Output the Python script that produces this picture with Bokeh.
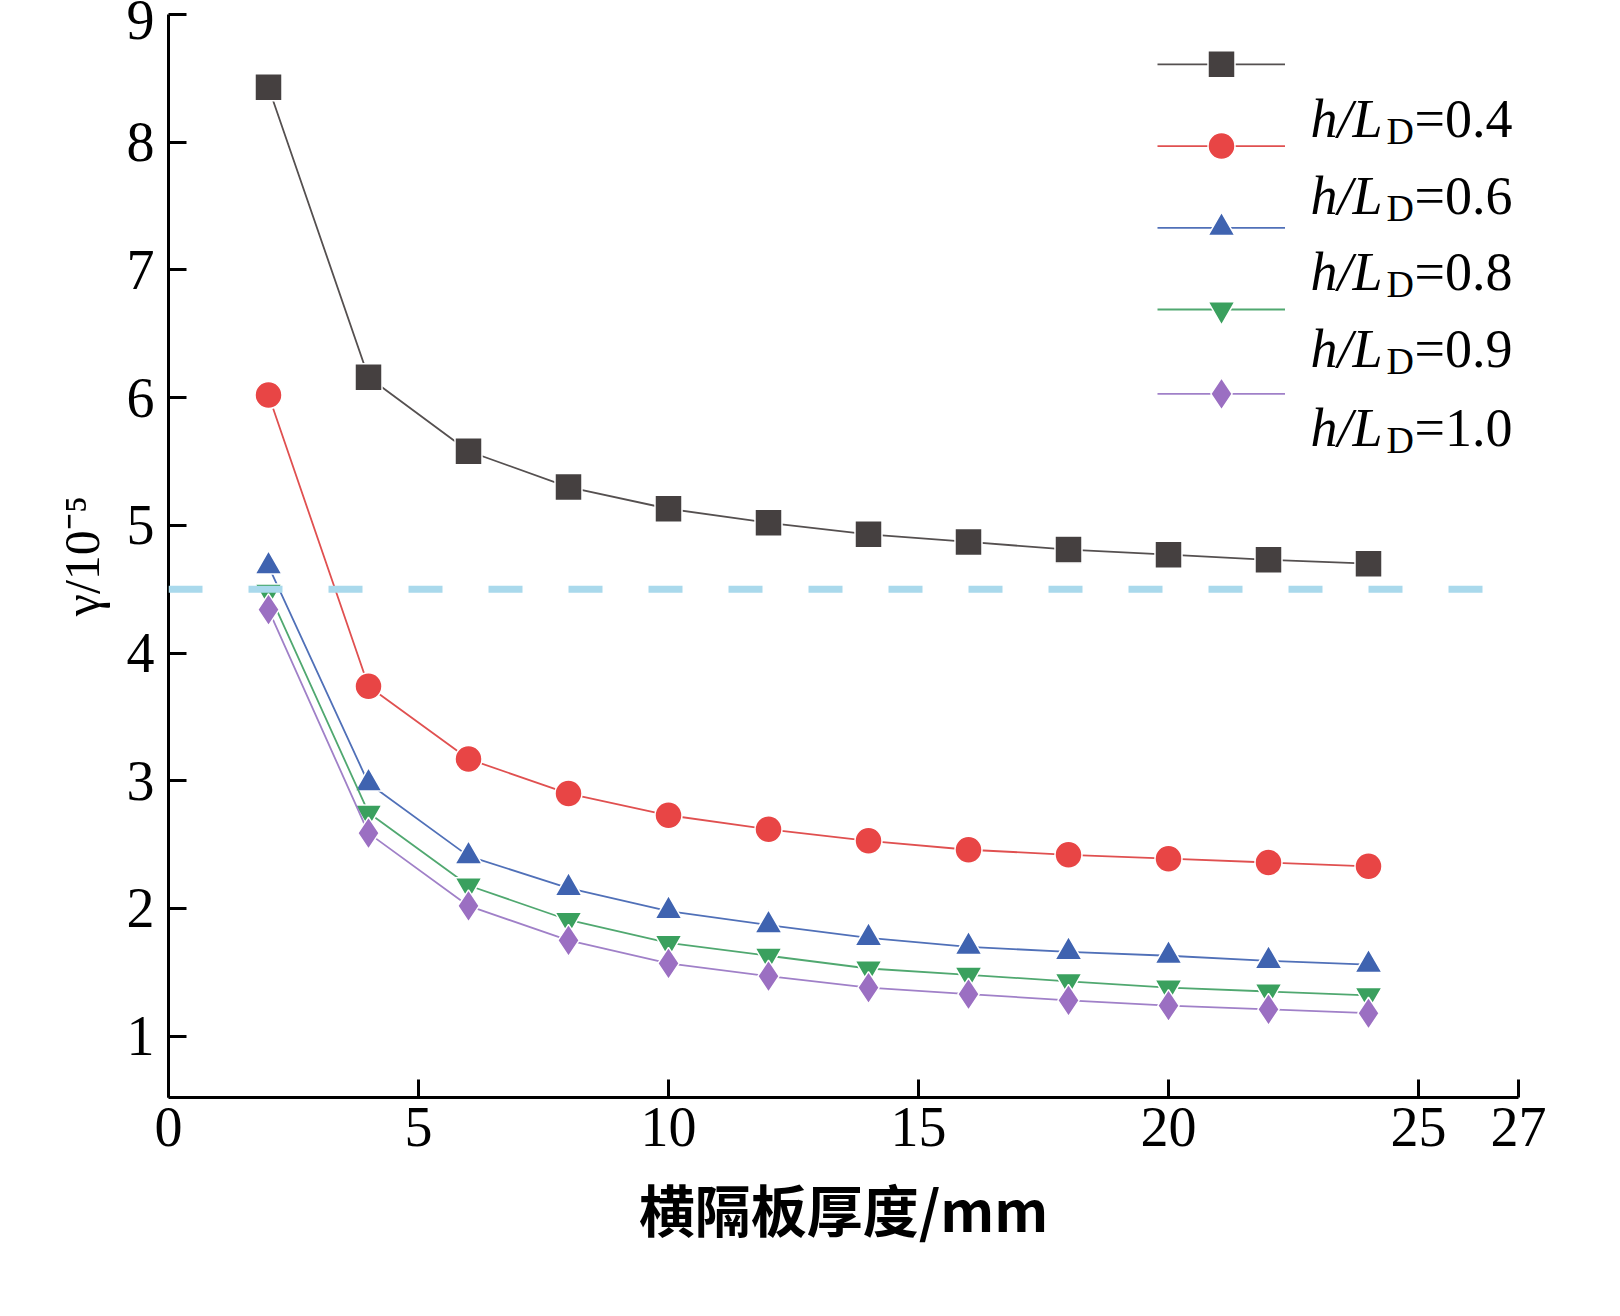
from bokeh.plotting import figure
from bokeh.models import Span, FixedTicker
from bokeh.core.properties import value
from bokeh.embed import file_html
from bokeh.resources import INLINE

thickness = [2, 4, 6, 8, 10, 12, 14, 16, 18, 20, 22, 24]
gamma_ref = [8.43, 6.16, 5.58, 5.30, 5.13, 5.02, 4.93, 4.87, 4.81, 4.77, 4.73, 4.70]
gamma_04 = [6.02, 3.74, 3.17, 2.90, 2.73, 2.62, 2.53, 2.46, 2.42, 2.39, 2.36, 2.33]
gamma_06 = [4.68, 2.98, 2.41, 2.16, 1.98, 1.87, 1.77, 1.70, 1.66, 1.63, 1.59, 1.56]
gamma_08 = [4.48, 2.75, 2.18, 1.91, 1.73, 1.63, 1.53, 1.48, 1.43, 1.38, 1.35, 1.32]
gamma_10 = [4.34, 2.59, 2.02, 1.75, 1.57, 1.47, 1.38, 1.33, 1.28, 1.24, 1.21, 1.18]
limit = 4.5
x_ticks = [0, 5, 10, 15, 20, 25, 27]
y_ticks = [1, 2, 3, 4, 5, 6, 7, 8, 9]
legend_values = ["0.4", "0.6", "0.8", "0.9", "1.0"]

serif = "Liberation Serif"

p = figure(width=1560, height=1270, x_range=(0, 27), y_range=(0.52, 9.0),
           output_backend="svg", toolbar_location=None,
           min_border_left=168, min_border_right=42, min_border_top=14, min_border_bottom=173)
p.grid.visible = False
p.outline_line_color = None
p.background_fill_color = "white"

for ax in (p.xaxis, p.yaxis):
    ax.axis_line_width = 3
    ax.axis_line_color = "black"
    ax.major_tick_line_width = 3
    ax.major_tick_in = 18
    ax.major_tick_out = 0
    ax.minor_tick_line_color = None
    ax.major_label_text_font = serif
    ax.major_label_text_font_size = "56px"
    ax.major_label_text_color = "black"
    ax.axis_label_text_color = "black"
p.xaxis.ticker = FixedTicker(ticks=x_ticks)
p.yaxis.ticker = FixedTicker(ticks=y_ticks)
p.xaxis.major_label_standoff = 10
p.yaxis.major_label_standoff = 14
p.xaxis.axis_label = "横隔板厚度/mm"
p.xaxis.axis_label_text_font = "Noto Sans CJK SC"
p.xaxis.axis_label_text_font_size = "56px"
p.xaxis.axis_label_text_font_style = "bold"
p.xaxis.axis_label_standoff = 18
p.yaxis.axis_label = "γ/10⁻⁵"
p.yaxis.axis_label_text_font = serif
p.yaxis.axis_label_text_font_size = "50px"
p.yaxis.axis_label_text_font_style = "normal"
p.yaxis.axis_label_standoff = 14

p.add_layout(Span(location=limit, dimension="width", line_color="#a9d9ec",
                  line_width=7, line_dash="34 46"))

series = [
    (gamma_ref, "square", "#454040", "#555050"),
    (gamma_04, "circle", "#e84545", "#e05050"),
    (gamma_06, "triangle", "#3f63b0", "#5070b8"),
    (gamma_08, "inverted_triangle", "#3aa05e", "#50a870"),
    (gamma_10, "diamond", "#9b6fc2", "#a080c8"),
]
for vals, marker, fill, line in series:
    p.line(thickness, vals, line_color=line, line_width=1.8)
    size = 32 if marker == "diamond" else 27
    p.scatter(thickness, vals, marker=marker, size=size, fill_color=fill, line_color="white", line_width=1.5)

# hand drawn legend, marker rows offset from label rows as in the source figure
row_y = [8.61, 7.97, 7.33, 6.69, 6.03]
text_y = [8.18, 7.58, 6.98, 6.38, 5.76]
for (vals, marker, fill, line), ry in zip(series, row_y):
    p.line([19.78, 22.33], [ry, ry], line_color=line, line_width=1.8)
    size = 32 if marker == "diamond" else 27
    p.scatter([21.06], [ry], marker=marker, size=size, fill_color=fill, line_color="white", line_width=1.5)
tx = [22.84] * len(text_y)
p.text(tx, text_y, text=["h/L"] * 5, text_font=value(serif), text_font_style="italic",
       text_font_size="54px", text_baseline="middle", text_color="black")
p.text(tx, text_y, text=["D"] * 5, x_offset=76, y_offset=12, text_font=value(serif),
       text_font_size="38px", text_baseline="middle", text_color="black")
p.text(tx, text_y, text=["=" + v for v in legend_values], x_offset=104, text_font=value(serif),
       text_font_size="54px", text_baseline="middle", text_color="black")

open("out.html", "w").write(file_html(p, INLINE))
